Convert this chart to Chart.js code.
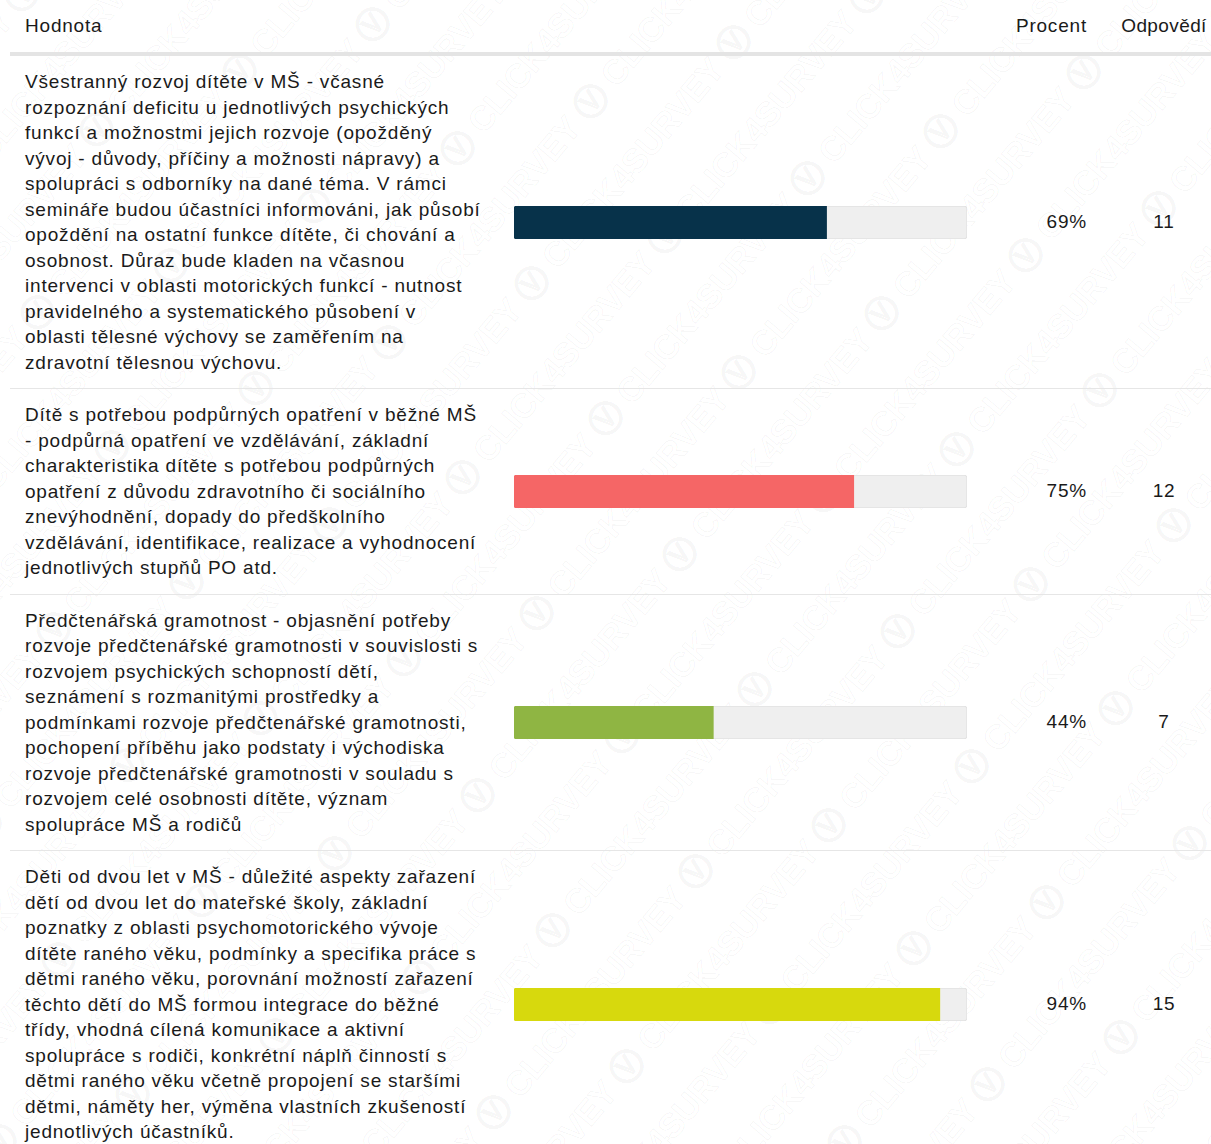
<!DOCTYPE html>
<html lang="cs">
<head>
<meta charset="utf-8">
<title>Hodnota / Procent / Odpovědí</title>
<script src="https://cdn.jsdelivr.net/npm/chart.js@4.4.1/dist/chart.umd.min.js"></script>
<style>
    html, body { margin: 0; padding: 0; background: #fff; }
    body {
        width: 1211px; height: 1144px; overflow: hidden; position: relative;
        font-family: "Liberation Sans", Arial, sans-serif; color: #1a1a1a;
    }
    #watermark {
        position: absolute; left: -700px; top: -700px; width: 2600px; height: 2600px;
        transform: rotate(-50deg); pointer-events: none; z-index: 0; overflow: hidden;
    }
    .wm-line {
        white-space: nowrap; font: bold 34px "Liberation Sans", Arial, sans-serif;
        line-height: 72px; color: transparent; -webkit-text-stroke: 1px rgba(0, 0, 0, 0.045);
    }
    #table { position: absolute; left: 10px; top: 0; width: 1201px; z-index: 1; letter-spacing: 0.8px; }
    .head {
        height: 52px; line-height: 52px; border-bottom: 4px solid #e4e4e4;
        position: relative; font-size: 19px;
    }
    .head .h-val { position: absolute; left: 15px; }
    .head .h-pct { position: absolute; right: 124px; }
    .head .h-cnt { position: absolute; left: 1104px; width: 100px; text-align: center; letter-spacing: 0.4px; }
    .row {
        position: relative; border-bottom: 1px solid #e6e6e6;
        padding: 13px 0 13px 15px; font-size: 19px; line-height: 25.5px;
    }
    .label { white-space: nowrap; }
    .bar { position: absolute; left: 504px; top: 50%; margin-top: -16.5px; width: 453px; height: 33px; }
    .pct, .cnt { position: absolute; top: 50%; margin-top: -13px; line-height: 26px; }
    .pct { right: 124px; }
    .cnt { left: 1104px; width: 100px; text-align: center; }
</style>
</head>
<body>
<div id="watermark" aria-hidden="true"></div>
<div id="table">
    <div class="head">
        <span class="h-val">Hodnota</span>
        <span class="h-pct">Procent</span>
        <span class="h-cnt">Odpovědí</span>
    </div>
    <div id="rows"></div>
</div>
<script>
const categories = [
    ['Všestranný rozvoj dítěte v MŠ - včasné',
     'rozpoznání deficitu u jednotlivých psychických',
     'funkcí a možnostmi jejich rozvoje (opožděný',
     'vývoj - důvody, příčiny a možnosti nápravy) a',
     'spolupráci s odborníky na dané téma. V rámci',
     'semináře budou účastníci informováni, jak působí',
     'opoždění na ostatní funkce dítěte, či chování a',
     'osobnost. Důraz bude kladen na včasnou',
     'intervenci v oblasti motorických funkcí - nutnost',
     'pravidelného a systematického působení v',
     'oblasti tělesné výchovy se zaměřením na',
     'zdravotní tělesnou výchovu.'],
    ['Dítě s potřebou podpůrných opatření v běžné MŠ',
     '- podpůrná opatření ve vzdělávání, základní',
     'charakteristika dítěte s potřebou podpůrných',
     'opatření z důvodu zdravotního či sociálního',
     'znevýhodnění, dopady do předškolního',
     'vzdělávání, identifikace, realizace a vyhodnocení',
     'jednotlivých stupňů PO atd.'],
    ['Předčtenářská gramotnost - objasnění potřeby',
     'rozvoje předčtenářské gramotnosti v souvislosti s',
     'rozvojem psychických schopností dětí,',
     'seznámení s rozmanitými prostředky a',
     'podmínkami rozvoje předčtenářské gramotnosti,',
     'pochopení příběhu jako podstaty i východiska',
     'rozvoje předčtenářské gramotnosti v souladu s',
     'rozvojem celé osobnosti dítěte, význam',
     'spolupráce MŠ a rodičů'],
    ['Děti od dvou let v MŠ - důležité aspekty zařazení',
     'dětí od dvou let do mateřské školy, základní',
     'poznatky z oblasti psychomotorického vývoje',
     'dítěte raného věku, podmínky a specifika práce s',
     'dětmi raného věku, porovnání možností zařazení',
     'těchto dětí do MŠ formou integrace do běžné',
     'třídy, vhodná cílená komunikace a aktivní',
     'spolupráce s rodiči, konkrétní náplň činností s',
     'dětmi raného věku včetně propojení se staršími',
     'dětmi, náměty her, výměna vlastních zkušeností',
     'jednotlivých účastníků.']
];
const percents = [69, 75, 44, 94];
const counts = [11, 12, 7, 15];
const barColors = ['#07324a', '#f56666', '#8fb543', '#d7d90d'];
const scaleMax = 100;

// faint diagonal watermark behind the table
const wm = document.getElementById('watermark');
for (let i = 0; i < 36; i++) {
    const line = document.createElement('div');
    line.className = 'wm-line';
    line.style.paddingLeft = ((i * 137) % 330) + 'px';
    line.textContent = 'CLICK4SURVEY \u24CB  '.repeat(12);
    wm.appendChild(line);
}

const rowsEl = document.getElementById('rows');

categories.forEach((lines, i) => {
    const row = document.createElement('div');
    row.className = 'row';

    const label = document.createElement('div');
    label.className = 'label';
    lines.forEach((text, k) => {
        if (k > 0) label.appendChild(document.createElement('br'));
        label.appendChild(document.createTextNode(text));
    });
    row.appendChild(label);

    const barWrap = document.createElement('div');
    barWrap.className = 'bar';
    const canvas = document.createElement('canvas');
    barWrap.appendChild(canvas);
    row.appendChild(barWrap);

    const pct = document.createElement('span');
    pct.className = 'pct';
    pct.textContent = percents[i] + '%';
    row.appendChild(pct);

    const cnt = document.createElement('span');
    cnt.className = 'cnt';
    cnt.textContent = counts[i];
    row.appendChild(cnt);

    rowsEl.appendChild(row);

    new Chart(canvas, {
        type: 'bar',
        data: {
            labels: [lines[0]],
            datasets: [
                {
                    data: [percents[i]],
                    backgroundColor: barColors[i],
                    borderWidth: 0,
                    borderRadius: { topLeft: 3, bottomLeft: 3, topRight: 0, bottomRight: 0 },
                    borderSkipped: false,
                    grouped: false,
                    barPercentage: 1,
                    categoryPercentage: 1
                },
                {
                    data: [scaleMax],
                    backgroundColor: '#efefef',
                    borderColor: '#e2e2e2',
                    borderWidth: 1,
                    borderRadius: 3,
                    borderSkipped: false,
                    grouped: false,
                    barPercentage: 1,
                    categoryPercentage: 1
                }
            ]
        },
        options: {
            indexAxis: 'y',
            responsive: true,
            maintainAspectRatio: false,
            animation: false,
            layout: { padding: 0 },
            scales: {
                x: { display: false, min: 0, max: scaleMax },
                y: { display: false }
            },
            plugins: {
                legend: { display: false },
                tooltip: { enabled: false }
            }
        }
    });
});
</script>
</body>
</html>
